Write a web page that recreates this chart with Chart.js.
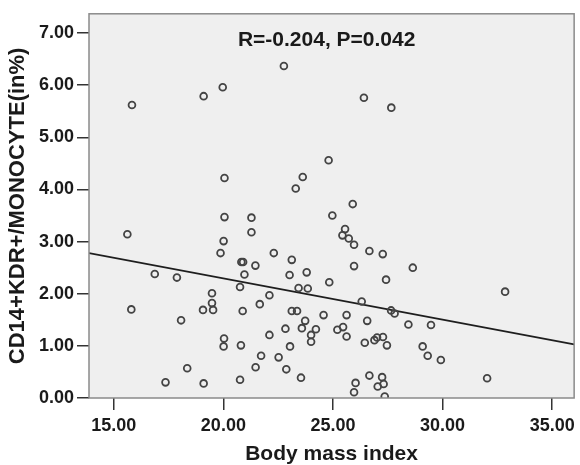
<!DOCTYPE html>
<html>
<head>
<meta charset="utf-8">
<script src="https://cdn.jsdelivr.net/npm/chart.js@4/dist/chart.umd.min.js"></script>
<style>
  body { margin: 0; background: #fff; }
</style>
</head>
<body>
<canvas id="myChart" width="580" height="465"></canvas>
<script>
// values
var bmi = [15.83, 19.10, 19.97, 22.76, 26.41, 27.66, 24.80, 20.05, 23.62, 23.30,
           25.90, 24.97, 15.62, 20.05, 21.28, 21.28, 25.55, 25.43, 25.72, 25.96,
           20.01, 19.87, 22.30, 26.66, 27.27, 23.12, 21.46, 25.96, 28.64, 20.82,
           20.90, 16.87, 20.96, 23.02, 23.80, 17.88, 27.42, 24.83, 20.76, 23.43,
           23.85, 32.85, 19.48, 22.10, 26.31, 19.48, 21.66, 15.80, 19.07, 19.53,
           20.88, 23.12, 23.36, 27.65, 27.81, 24.57, 25.62, 18.07, 23.73, 26.56,
           28.44, 29.47, 22.83, 23.58, 24.22, 25.20, 25.46, 24.00, 22.10, 25.62,
           20.03, 26.89, 27.01, 27.28, 24.00, 26.45, 20.01, 20.80, 23.04, 27.46,
           29.09, 21.72, 22.52, 29.32, 29.92, 18.35, 21.47, 22.87, 23.54, 26.66,
           27.24, 17.36, 19.10, 20.76, 26.03, 27.04, 27.31, 25.96, 27.36, 32.03];
var cd14 = [5.62, 5.79, 5.96, 6.37, 5.76, 5.57, 4.56, 4.22, 4.24, 4.02,
            3.72, 3.50, 3.14, 3.47, 3.46, 3.18, 3.24, 3.12, 3.06, 2.94,
            3.01, 2.78, 2.78, 2.82, 2.76, 2.65, 2.54, 2.53, 2.50, 2.61,
            2.61, 2.38, 2.37, 2.36, 2.41, 2.31, 2.27, 2.22, 2.13, 2.11,
            2.10, 2.04, 2.01, 1.97, 1.85, 1.82, 1.80, 1.70, 1.69, 1.69,
            1.67, 1.67, 1.67, 1.68, 1.62, 1.59, 1.59, 1.49, 1.48, 1.48,
            1.41, 1.40, 1.33, 1.34, 1.32, 1.31, 1.36, 1.21, 1.21, 1.18,
            1.14, 1.11, 1.16, 1.17, 1.08, 1.06, 0.99, 1.01, 0.99, 1.01,
            0.99, 0.81, 0.78, 0.81, 0.73, 0.57, 0.59, 0.55, 0.39, 0.43,
            0.40, 0.30, 0.28, 0.35, 0.29, 0.22, 0.27, 0.11, 0.03, 0.38];
// fit line ends (at the axis limits)
var lineBmi = [13.87, 36.0];
var lineCd14 = [2.78, 1.03];
var xTicks = [15, 20, 25, 30, 35];
var yTicks = [0, 1, 2, 3, 4, 5, 6, 7];
var annText = "R=-0.204, P=0.042";
var annPos = [24.71, 6.86];

var FONT = "'Liberation Sans', Arial, sans-serif";

var frame = {
  id: 'frame',
  beforeDraw: function(c) {
    var a = c.chartArea, ctx = c.ctx;
    ctx.save();
    ctx.fillStyle = '#efefef';
    ctx.fillRect(a.left, a.top, a.right - a.left, a.bottom - a.top);
    ctx.restore();
  },
  afterDatasetsDraw: function(c) {
    var a = c.chartArea, ctx = c.ctx;
    ctx.save();
    ctx.strokeStyle = '#8a8a8a';
    ctx.lineWidth = 1.5;
    ctx.strokeRect(a.left, a.top, a.right - a.left, a.bottom - a.top);
    ctx.font = 'bold 21px ' + FONT;
    ctx.fillStyle = '#1a1a1a';
    ctx.textAlign = 'center';
    ctx.textBaseline = 'middle';
    ctx.fillText(annText, c.scales.x.getPixelForValue(annPos[0]), c.scales.y.getPixelForValue(annPos[1]));
    ctx.restore();
  }
};

var pts = bmi.map(function(v, i) { return {x: v, y: cd14[i]}; });
var fit = lineBmi.map(function(v, i) { return {x: v, y: lineCd14[i]}; });

var ctx = document.getElementById('myChart').getContext('2d');
var chart = new Chart(ctx, {
  type: 'scatter',
  data: {
    datasets: [{
      data: pts,
      pointStyle: 'circle',
      pointRadius: 3.4,
      pointBorderWidth: 1.8,
      borderColor: '#444',
      backgroundColor: 'rgba(0,0,0,0)'
    }, {
      data: fit,
      showLine: true,
      pointRadius: 0,
      borderColor: '#1e1e1e',
      borderWidth: 1.8
    }]
  },
  options: {
    responsive: false,
    animation: false,
    devicePixelRatio: 1,
    layout: { padding: { top: 13, right: 1, left: 0, bottom: 0 } },
    plugins: { legend: { display: false }, tooltip: { enabled: false } },
    scales: {
      x: {
        type: 'linear',
        min: lineBmi[0],
        max: lineBmi[1],
        afterFit: function(s) { s.height = 67; },
        afterBuildTicks: function(s) { s.ticks = xTicks.map(function(v) { return {value: v}; }); },
        border: { display: false },
        grid: { drawOnChartArea: false, drawTicks: true, tickLength: 12, color: '#333', lineWidth: 1.5 },
        ticks: {
          padding: 5,
          color: '#1a1a1a',
          font: { family: FONT, size: 18, weight: 'bold' },
          maxRotation: 0,
          callback: function(v) { return Number(v).toFixed(2); }
        },
        title: {
          display: true,
          text: 'Body mass index',
          color: '#1a1a1a',
          font: { family: FONT, size: 21, weight: 'bold', lineHeight: 1 },
          padding: { top: 0, bottom: 0 }
        }
      },
      y: {
        type: 'linear',
        min: 0,
        max: 7.37,
        afterFit: function(s) { s.width = 89; },
        afterBuildTicks: function(s) { s.ticks = yTicks.map(function(v) { return {value: v}; }); },
        border: { display: false },
        grid: { drawOnChartArea: false, drawTicks: true, tickLength: 12, color: '#333', lineWidth: 1.5 },
        ticks: {
          padding: 3,
          color: '#1a1a1a',
          font: { family: FONT, size: 18, weight: 'bold' },
          callback: function(v) { return Number(v).toFixed(2); }
        },
        title: {
          display: true,
          text: 'CD14+KDR+/MONOCYTE(in%)',
          color: '#1a1a1a',
          font: { family: FONT, size: 22, weight: 'bold', lineHeight: 1 },
          padding: { top: 7, bottom: 0 }
        }
      }
    }
  },
  plugins: [frame]
});
</script>
</body>
</html>
